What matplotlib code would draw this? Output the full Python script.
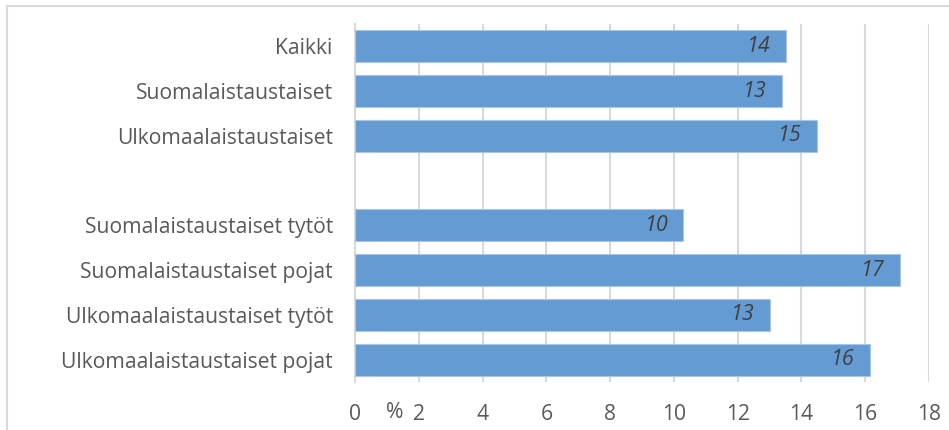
import matplotlib
matplotlib.use("Agg")
import matplotlib.pyplot as plt
from matplotlib.lines import Line2D

# data; None = empty row between groups
categories = ["Kaikki", "Suomalaistaustaiset", "Ulkomaalaistaustaiset", "",
              "Suomalaistaustaiset tytöt", "Suomalaistaustaiset pojat",
              "Ulkomaalaistaustaiset tytöt", "Ulkomaalaistaustaiset pojat"]
values = [13.5, 13.4, 14.5, None, 10.3, 17.1, 13.0, 16.15]
labels = ["14", "13", "15", "", "10", "17", "13", "16"]
xticks = [0, 2, 4, 6, 8, 10, 12, 14, 16, 18]

W, H = 949, 430
BAR_COLOR = "#659BD3"
TXT = "#595959"
GRID = "#D9D9D9"

plt.rcParams["font.family"] = ["Open Sans", "DejaVu Sans"]

fig = plt.figure(figsize=(W / 100, H / 100), dpi=100)
ax = fig.add_axes([355 / W, 1 - 382 / H, (929 - 355) / W, (382 - 24) / H])

ypos = list(range(len(categories)))
for y, v, lab in zip(ypos, values, labels):
    if v is None:
        continue
    ax.barh(y, v, height=0.71, color=BAR_COLOR, edgecolor="#A9C6E8",
            linewidth=0.8, zorder=3)
    ax.annotate(lab, (v, y), xytext=(-11, 0), textcoords="offset points",
                ha="right", va="center", fontsize=15.5, style="italic",
                color="#404040", zorder=4)

ax.set_ylim(len(categories) - 0.5, -0.5)
ax.set_xlim(0, 18)
ax.set_yticks(ypos)
ax.set_yticklabels(categories, fontsize=15.2, color=TXT)
ax.set_xticks(xticks)
ax.set_xticklabels([str(t) for t in xticks], fontsize=15.2, color=TXT)
ax.tick_params(axis="y", length=0, pad=16)
ax.tick_params(axis="x", length=0, pad=16)
ax.grid(axis="x", color=GRID, linewidth=1.5, zorder=0)
ax.set_axisbelow(True)
for s in ["top", "right", "bottom"]:
    ax.spines[s].set_visible(False)
ax.spines["left"].set_color(GRID)
ax.spines["left"].set_linewidth(1.5)

fig.text(395 / W, 1 - 413 / H, "%", ha="center", va="center",
         fontsize=15.2, color=TXT)

# chart border (only top and left edges fall inside the picture)
x0, y0 = 6.5 / W, 1 - 5.5 / H
fig.add_artist(Line2D([x0, x0], [0, y0], transform=fig.transFigure,
                      color=GRID, linewidth=1.5))
fig.add_artist(Line2D([x0, 1], [y0, y0], transform=fig.transFigure,
                      color=GRID, linewidth=1.5))

fig.savefig("out.png", dpi=100)
